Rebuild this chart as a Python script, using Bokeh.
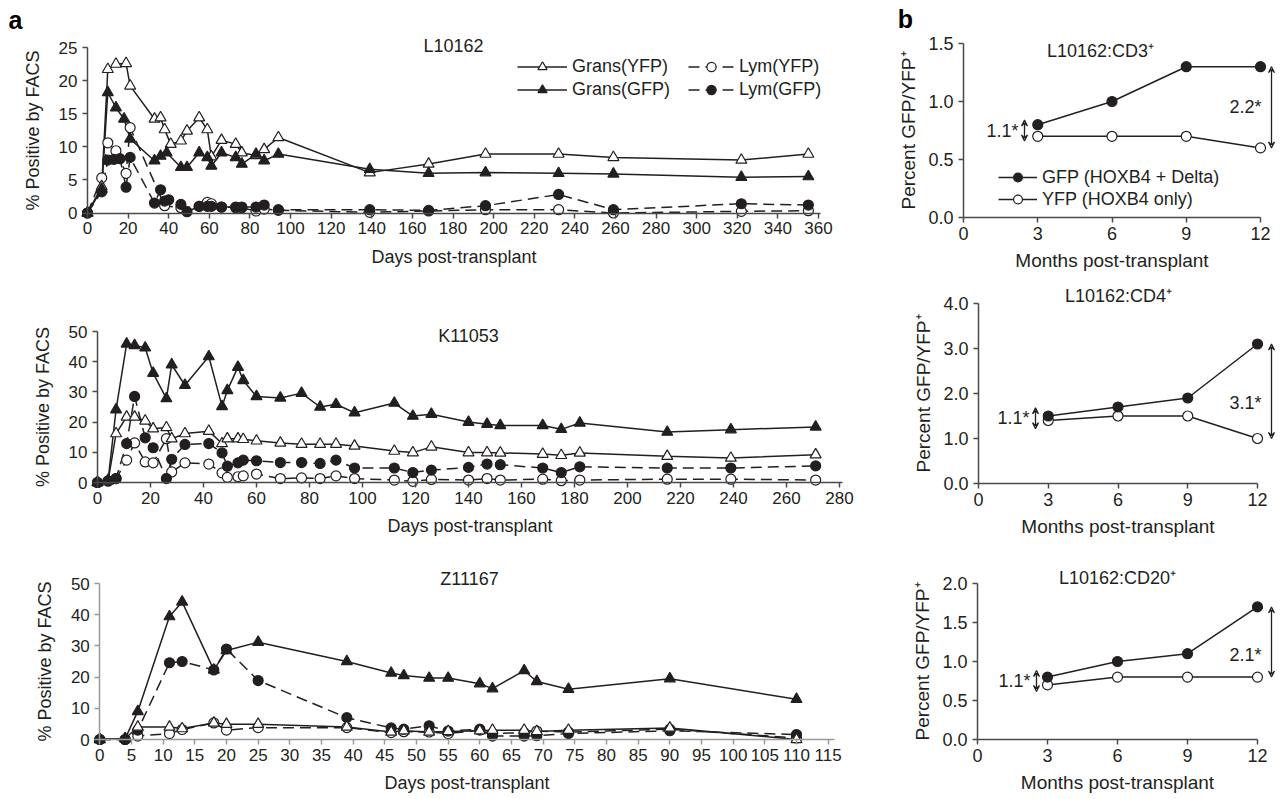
from bokeh.plotting import figure
from bokeh.layouts import row, column
from bokeh.models import (Range1d, Legend, LegendItem, Label, Arrow, VeeHead,
                          NumeralTickFormatter)
from bokeh.embed import file_html
from bokeh.resources import INLINE

# ---------------- DATA ----------------
# Panel a, L10162
l_gy_days = [0, 7, 10, 14, 19, 21, 33, 36, 38, 41, 46, 49, 55, 59, 61, 66, 73, 76, 83, 87, 94, 139, 168, 196, 232, 259, 322, 355]
l_gy_vals = [0, 4.0, 21.7, 22.5, 22.6, 19.2, 14.2, 14.4, 12.6, 10.4, 10.9, 12.4, 14.4, 12.6, 8.5, 11.0, 10.4, 9.1, 8.7, 9.6, 11.4, 6.1, 7.4, 8.9, 8.9, 8.4, 8.0, 8.9]
l_gg_days = [0, 7, 10, 14, 18, 21, 33, 36, 39, 46, 49, 55, 59, 61, 66, 73, 76, 83, 87, 94, 139, 168, 196, 232, 259, 322, 355]
l_gg_vals = [0, 3.6, 18.2, 15.9, 14.2, 11.2, 7.9, 8.6, 9.1, 6.9, 6.9, 9.1, 8.4, 7.1, 9.1, 8.4, 7.4, 8.9, 7.9, 8.9, 6.6, 6.0, 6.1, 6.0, 5.9, 5.4, 5.5]
l_ly_days = [0, 7, 10, 14, 19, 21, 38, 46, 55, 59, 61, 66, 73, 76, 83, 87, 94, 139, 168, 196, 232, 259, 322, 355]
l_ly_vals = [0, 5.3, 10.6, 9.4, 6.0, 12.9, 1.1, 0.8, 1.0, 1.6, 1.4, 0.9, 0.8, 0.8, 0.3, 0.6, 0.4, 0.1, 0.3, 0.5, 0.5, 0.0, 0.25, 0.35]
l_lg_days = [0, 7, 10, 13, 16, 19, 21, 33, 36, 38, 40, 46, 49, 55, 59, 61, 66, 73, 76, 83, 87, 94, 139, 168, 196, 232, 259, 322, 355]
l_lg_vals = [0, 3.2, 8.0, 8.1, 8.2, 3.9, 8.4, 1.5, 3.5, 1.8, 2.0, 1.3, 0.2, 1.0, 1.0, 1.0, 0.9, 0.9, 0.9, 0.9, 1.2, 0.5, 0.5, 0.4, 1.1, 2.8, 0.5, 1.4, 1.2]

# Panel a, K11053
k_days = [0, 4, 7, 11, 14, 18, 21, 26, 28, 33, 42, 47, 49, 53, 55, 60, 69, 77, 84, 90, 97, 112, 119, 126, 140, 147, 152, 168, 175, 182, 215, 239, 271]
k_gg_vals = [0, 0.8, 24.1, 45.9, 45.4, 44.6, 36.2, 27.8, 39.0, 32.2, 41.7, 25.2, 30.5, 38.2, 33.8, 28.5, 28.0, 29.6, 25.0, 25.9, 23.1, 26.3, 22.0, 22.6, 20.0, 19.3, 18.9, 18.9, 17.6, 19.7, 16.7, 17.5, 18.4]
k_gy_vals = [0, 0.5, 16.2, 21.7, 21.7, 20.4, 17.8, 18.2, 14.5, 16.2, 17.0, 12.9, 14.5, 14.5, 14.3, 13.8, 13.1, 12.7, 12.7, 12.7, 12.1, 10.4, 9.9, 11.8, 9.9, 9.9, 9.8, 9.4, 9.0, 9.8, 8.7, 8.1, 9.2]
k_lg_vals = [0, 0.5, 1.3, 12.9, 28.5, 14.8, 11.5, 1.3, 7.7, 12.6, 12.9, 9.8, 5.4, 6.5, 7.4, 7.2, 6.6, 6.6, 6.3, 7.4, 4.8, 4.8, 3.3, 4.1, 5.0, 6.1, 5.9, 4.8, 3.3, 5.2, 4.8, 4.8, 5.5]
k_ly_vals = [0, 0.5, 1.3, 7.4, 13.1, 6.8, 6.5, 14.5, 3.5, 6.5, 6.1, 3.2, 1.7, 1.9, 2.2, 2.8, 1.3, 1.5, 1.3, 2.2, 1.3, 0.8, 0.4, 1.0, 0.8, 1.3, 0.8, 1.1, 0.6, 0.8, 1.1, 1.1, 0.8]

# Panel a, Z11167
z_days = [0, 4, 6, 11, 13, 18, 20, 25, 39, 46, 48, 52, 55, 60, 62, 67, 69, 74, 90, 110]
z_gg_vals = [0, 0.3, 9.0, 39.4, 44.1, 22.3, 28.5, 31.2, 25.0, 21.3, 20.5, 19.7, 19.7, 17.9, 16.3, 22.1, 18.6, 16.1, 19.5, 12.9]
z_gy_vals = [0, 0.3, 4.0, 4.0, 3.5, 5.3, 4.9, 4.9, 4.0, 2.4, 2.8, 2.4, 2.6, 2.8, 3.0, 3.0, 2.6, 3.0, 3.7, 0.0]
z_lg_vals = [0, 0, 3.0, 24.6, 25.0, 22.3, 29.0, 18.9, 7.0, 3.7, 3.3, 4.4, 2.7, 3.3, 1.1, 1.1, 1.2, 1.9, 2.8, 1.6]
z_ly_vals = [0, 0, 1.1, 1.9, 3.2, 5.3, 3.0, 3.8, 3.8, 2.2, 2.5, 2.4, 1.9, 3.0, 1.9, 2.2, 2.7, 2.4, 3.3, 0.5]

a_titles = ["L10162", "K11053", "Z11167"]
a_xticks = [list(range(0, 361, 20)), list(range(0, 281, 20)), list(range(0, 116, 5))]
a_yticks = [[0, 5, 10, 15, 20, 25], [0, 10, 20, 30, 40, 50], [0, 10, 20, 30, 40, 50]]
series_labels = ["Grans(YFP)", "Grans(GFP)", "Lym(YFP)", "Lym(GFP)"]

# Panel b
months = [3, 6, 9, 12]
cd3_gfp = [0.8, 1.0, 1.3, 1.3]
cd3_yfp = [0.7, 0.7, 0.7, 0.6]
cd4_gfp = [1.5, 1.7, 1.9, 3.1]
cd4_yfp = [1.4, 1.5, 1.5, 1.0]
cd20_gfp = [0.8, 1.0, 1.1, 1.7]
cd20_yfp = [0.7, 0.8, 0.8, 0.8]
b_titles = ["L10162:CD3\u207a", "L10162:CD4\u207a", "L10162:CD20\u207a"]
fold_start = ["1.1*", "1.1*", "1.1*"]
fold_end = ["2.2*", "3.1*", "2.1*"]
b_xticks = [0, 3, 6, 9, 12]
b_yticks = [[0, 0.5, 1.0, 1.5], [0, 1, 2, 3, 4], [0, 0.5, 1.0, 1.5, 2.0]]
b_legend = ["GFP (HOXB4 + Delta)", "YFP (HOXB4 only)"]

# ---------------- STYLE / LAYOUT ----------------
FONT = "Liberation Sans"
INK = "#231f20"
DASH = "11 6"


def lin(p0, v0, p1, v1):
    return lambda px: v0 + (px - p0) * (v1 - v0) / (p1 - p0)


def make(box, xanchor, yanchor):
    """box = (left, top, width, height) in page px; anchors map page px to data values."""
    L, T, W, H = box
    fx = lin(*xanchor)
    fy = lin(*yanchor)
    p = figure(width=W, height=H,
               x_range=Range1d(fx(L), fx(L + W)), y_range=Range1d(fy(T + H), fy(T)),
               output_backend="svg", toolbar_location=None,
               min_border=0, min_border_left=0, min_border_right=0,
               min_border_top=0, min_border_bottom=0)
    p.outline_line_color = None
    p.xgrid.grid_line_color = None
    p.ygrid.grid_line_color = None
    p.xaxis.fixed_location = 0
    p.yaxis.fixed_location = 0
    return p


def style_axes(p, axis_color, tick_px, lab_px, xls, yls):
    for ax in (p.xaxis[0], p.yaxis[0]):
        ax.axis_line_color = axis_color
        ax.axis_line_width = 1.5
        ax.major_tick_line_color = axis_color
        ax.major_tick_line_width = 1.5
        ax.major_tick_out = 5
        ax.major_tick_in = 0
        ax.minor_tick_line_color = None
        ax.major_label_text_font = FONT
        ax.major_label_text_font_size = f"{tick_px}px"
        ax.major_label_text_color = INK
        ax.axis_label_text_font = FONT
        ax.axis_label_text_font_size = f"{lab_px}px"
        ax.axis_label_text_font_style = "normal"
        ax.axis_label_text_color = INK
    p.xaxis.major_label_standoff = 4
    p.yaxis.major_label_standoff = 5
    p.xaxis.axis_label_standoff = xls
    p.yaxis.axis_label_standoff = yls


def page_label(p, box, px, py, text, size="18px", bold=False, align="center"):
    L, T, W, H = box
    p.add_layout(Label(x=px - L, y=(T + H) - py, x_units="screen", y_units="screen",
                       text=text, text_align=align, text_baseline="middle",
                       text_font=FONT, text_font_size=size,
                       text_font_style="bold" if bold else "normal",
                       text_color="#000000" if bold else INK))


# ---------------- PANEL A ----------------
a_boxes = [(0, 0, 870, 272), (0, 272, 870, 270), (0, 542, 870, 255)]
a_xanch = [(87, 0, 818, 360), (97, 0, 839, 280), (99.3, 0, 796, 110)]
a_yanch = [(212.5, 0, 47, 25), (482, 0, 331, 50), (739, 0, 583, 50)]
a_title_pos = [(453, 45), (468, 335), (469, 578)]
a_axis_col = ["#4a4a4a", "#4a4a4a", "#9a9a9a"]

a_data = [
    [(l_gy_days, l_gy_vals), (l_gg_days, l_gg_vals), (l_ly_days, l_ly_vals), (l_lg_days, l_lg_vals)],
    [(k_days, k_gy_vals), (k_days, k_gg_vals), (k_days, k_ly_vals), (k_days, k_lg_vals)],
    [(z_days, z_gy_vals), (z_days, z_gg_vals), (z_days, z_ly_vals), (z_days, z_lg_vals)],
]
markers = ["triangle", "triangle", "circle", "circle"]
filled = [False, True, False, True]
dashed = [False, False, True, True]
msize = [11, 11, 10, 10]

a_figs = []
for i in range(3):
    box = a_boxes[i]
    p = make(box, a_xanch[i], a_yanch[i])
    style_axes(p, a_axis_col[i], 17, 18, 9, 13)
    p.xaxis.ticker = a_xticks[i]
    p.yaxis.ticker = a_yticks[i]
    p.xaxis.bounds = (0, a_xticks[i][-1] + 1)
    p.yaxis.bounds = (0, a_yticks[i][-1])
    p.xaxis.axis_label = "Days post-transplant"
    p.yaxis.axis_label = "% Positive by FACS"
    lines = []
    for (xs, ys), dsh in zip(a_data[i], dashed):
        lines.append(p.line(xs, ys, line_color=INK, line_width=1.5,
                            line_dash=DASH if dsh else "solid"))
    sc = [None] * 4
    for k in [2, 3, 0, 1]:
        xs, ys = a_data[i][k]
        sc[k] = p.scatter(xs, ys, marker=markers[k], size=msize[k], line_color=INK,
                          line_width=1.2, fill_color=INK if filled[k] else "white")
    page_label(p, box, *a_title_pos[i], a_titles[i])
    if i == 0:
        L, T, W, H = box
        leg_common = dict(padding=0, spacing=0, margin=0, label_standoff=5,
                          glyph_height=23, label_height=23,
                          label_text_font=FONT, label_text_font_size="18px",
                          label_text_color=INK, background_fill_alpha=0,
                          border_line_color=None)
        leg_bottom = 100.5
        leg1 = Legend(items=[LegendItem(label=series_labels[0], renderers=[lines[0], sc[0]]),
                             LegendItem(label=series_labels[1], renderers=[lines[1], sc[1]])],
                      location=(517 - L, (T + H) - leg_bottom), glyph_width=50, **leg_common)
        leg2 = Legend(items=[LegendItem(label=series_labels[2], renderers=[lines[2], sc[2]]),
                             LegendItem(label=series_labels[3], renderers=[lines[3], sc[3]])],
                      location=(688 - L, (T + H) - leg_bottom), glyph_width=46, **leg_common)
        p.add_layout(leg1)
        p.add_layout(leg2)
        page_label(p, box, 15, 19, "a", size="25px", bold=True)
    a_figs.append(p)

# ---------------- PANEL B ----------------
b_boxes = [(870, 0, 408, 272), (870, 272, 408, 268), (870, 540, 408, 257)]
b_xanch = [(963, 0, 1260, 12), (978, 0, 1257, 12), (977, 0, 1257, 12)]
b_yanch = [(217, 0, 43, 1.5), (483, 0, 303, 4.0), (739, 0, 583, 2.0)]
b_title_pos = [(1100, 50), (1118, 295), (1117, 577)]
b_right_arrow_px = [1271, 1271, 1271]
b_right_label_y = [0.95, 1.8, 1.08]
b_left_arrow_px = [1024, 1035, 1036]
b_data = [(cd3_gfp, cd3_yfp), (cd4_gfp, cd4_yfp), (cd20_gfp, cd20_yfp)]

b_figs = []
for i in range(3):
    box = b_boxes[i]
    p = make(box, b_xanch[i], b_yanch[i])
    style_axes(p, "#4a4a4a", 18, 19, 7, 6)
    p.xaxis.ticker = b_xticks
    p.yaxis.ticker = b_yticks[i]
    p.yaxis.formatter = NumeralTickFormatter(format="0.0")
    p.xaxis.bounds = (0, 12)
    p.yaxis.bounds = (0, b_yticks[i][-1])
    p.xaxis.axis_label = "Months post-transplant"
    p.yaxis.axis_label = "Percent GFP/YFP\u207a"
    gfp, yfp = b_data[i]
    lg = p.line(months, gfp, line_color=INK, line_width=1.5)
    ly = p.line(months, yfp, line_color=INK, line_width=1.5)
    sy = p.scatter(months, yfp, marker="circle", size=10, line_color=INK,
                   line_width=1.2, fill_color="white")
    sg = p.scatter(months, gfp, marker="circle", size=10, line_color=INK,
                   line_width=1.2, fill_color=INK)
    page_label(p, box, *b_title_pos[i], b_titles[i])
    fx = lin(*b_xanch[i])
    ppu = abs((b_yanch[i][0] - b_yanch[i][2]) / (b_yanch[i][3] - b_yanch[i][1]))
    lax = fx(b_left_arrow_px[i])
    rax = fx(b_right_arrow_px[i])
    mid0 = (gfp[0] + yfp[0]) / 2
    half = 10.5 / ppu
    for (x0, y0, y1) in [(lax, mid0 - half, mid0 + half), (rax, yfp[-1], gfp[-1])]:
        p.add_layout(Arrow(x_start=x0, y_start=y0, x_end=x0, y_end=y1,
                           start=VeeHead(size=6, line_color=INK, line_width=1.2, fill_color=None),
                           end=VeeHead(size=6, line_color=INK, line_width=1.2, fill_color=None),
                           line_color=INK, line_width=1.3))
    p.add_layout(Label(x=lax, y=mid0, x_offset=-6, text=fold_start[i],
                       text_align="right", text_baseline="middle",
                       text_font=FONT, text_font_size="18px", text_color=INK))
    p.add_layout(Label(x=rax, y=b_right_label_y[i], x_offset=-10, text=fold_end[i],
                       text_align="right", text_baseline="middle",
                       text_font=FONT, text_font_size="18px", text_color=INK))
    if i == 0:
        L, T, W, H = box
        leg = Legend(items=[LegendItem(label=b_legend[0], renderers=[lg, sg]),
                            LegendItem(label=b_legend[1], renderers=[ly, sy])],
                     location=(998 - L, (T + H) - 210), glyph_width=39, glyph_height=22,
                     label_height=22, padding=0, spacing=0, margin=0, label_standoff=5,
                     label_text_font=FONT, label_text_font_size="18px",
                     label_text_color=INK, background_fill_alpha=0,
                     border_line_color=None)
        p.add_layout(leg)
        page_label(p, box, 905, 18, "b", size="25px", bold=True)
    b_figs.append(p)

layout = row(column(*a_figs), column(*b_figs))
open("out.html", "w").write(file_html(layout, INLINE))
